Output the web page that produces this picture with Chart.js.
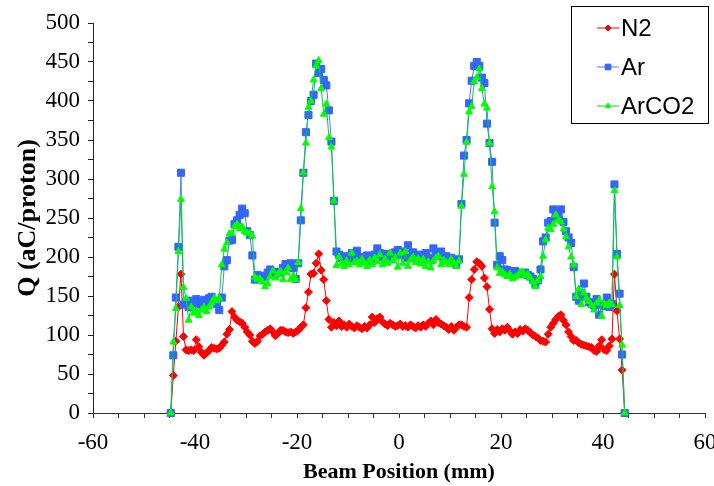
<!DOCTYPE html>
<html>
<head>
<meta charset="utf-8">
<script src="https://cdn.jsdelivr.net/npm/chart.js@4.4.1/dist/chart.umd.min.js"></script>
<style>
  body { margin: 0; background: #fff; }
  canvas { display: block; }
</style>
</head>
<body>
<canvas id="mycanvas" width="714" height="486"></canvas>
<script>
// beam positions (mm)
const positions = [
  -44.75, -44.25, -43.75, -43.25, -42.75, -42.25, -41.75, -41.25, -40.75, -40.25,
  -39.75, -39.25, -38.75, -38.25, -37.75, -37.25, -36.75, -36.25, -35.75, -35.25,
  -34.75, -34.25, -33.75, -33.25, -32.75, -32.25, -31.75, -31.25, -30.75, -30.25,
  -29.75, -29.25, -28.75, -28.25, -27.75, -27.25, -26.75, -26.25, -25.75, -25.25,
  -24.75, -24.25, -23.75, -23.25, -22.75, -22.25, -21.75, -21.25, -20.75, -20.25,
  -19.75, -19.25, -18.75, -18.25, -17.75, -17.25, -16.75, -16.25, -15.75, -15.25,
  -14.75, -14.25, -13.75, -13.25, -12.75, -12.25, -11.75, -11.25, -10.75, -10.25,
  -9.75, -9.25, -8.75, -8.25, -7.75, -7.25, -6.75, -6.25, -5.75, -5.25,
  -4.75, -4.25, -3.75, -3.25, -2.75, -2.25, -1.75, -1.25, -0.75, -0.25,
  0.25, 0.75, 1.25, 1.75, 2.25, 2.75, 3.25, 3.75, 4.25, 4.75,
  5.25, 5.75, 6.25, 6.75, 7.25, 7.75, 8.25, 8.75, 9.25, 9.75,
  10.25, 10.75, 11.25, 11.75, 12.25, 12.75, 13.25, 13.75, 14.25, 14.75,
  15.25, 15.75, 16.25, 16.75, 17.25, 17.75, 18.25, 18.75, 19.25, 19.75,
  20.25, 20.75, 21.25, 21.75, 22.25, 22.75, 23.25, 23.75, 24.25, 24.75,
  25.25, 25.75, 26.25, 26.75, 27.25, 27.75, 28.25, 28.75, 29.25, 29.75,
  30.25, 30.75, 31.25, 31.75, 32.25, 32.75, 33.25, 33.75, 34.25, 34.75,
  35.25, 35.75, 36.25, 36.75, 37.25, 37.75, 38.25, 38.75, 39.25, 39.75,
  40.25, 40.75, 41.25, 41.75, 42.25, 42.75, 43.25, 43.75, 44.25
];

// Q (aC/proton)
const n2 = [
  0, 48, 92, 136, 178, 98, 81, 80, 81, 80,
  94, 85, 78, 74, 77, 80, 84, 83, 82, 83,
  87, 91, 101, 107, 130, 123, 119, 117, 115, 110,
  104, 100, 92, 89, 92, 99, 101, 104, 106, 108,
  104, 99, 102, 106, 106, 104, 103, 104, 102, 104,
  106, 110, 113, 135, 155, 178, 179, 192, 204, 183,
  171, 144, 120, 110, 116, 112, 118, 111, 113, 110,
  114, 111, 109, 112, 110, 108, 111, 109, 113, 123,
  116, 121, 123, 117, 114, 112, 115, 113, 111, 112,
  114, 111, 112, 110, 113, 111, 109, 112, 110, 113,
  111, 115, 118, 113, 120, 116, 114, 112, 110, 107,
  111, 106, 110, 113, 113, 111, 110, 148, 171, 184,
  194, 192, 188, 173, 162, 133, 108, 102, 107, 104,
  108, 106, 110, 105, 101, 104, 102, 107, 105, 108,
  106, 103, 100, 98, 96, 93, 92, 91, 101, 110,
  115, 120, 124, 126, 119, 113, 104, 98, 93, 93,
  90, 88, 87, 86, 85, 84, 80, 79, 86, 94,
  81, 80, 86, 95, 178, 131, 95, 55, 0
];

const ar = [
  0, 74, 148, 213, 308, 139, 142, 136, 144, 141,
  146, 139, 143, 145, 141, 147, 149, 144, 140, 132,
  148, 188, 196, 221, 222, 242, 247, 254, 262, 256,
  233, 228, 202, 171, 177, 175, 174, 176, 180, 184,
  181, 178, 180, 181, 186, 191, 189, 192, 186, 172,
  192, 247, 308, 360, 382, 400, 408, 448, 436, 441,
  427, 420, 388, 348, 272, 207, 203, 199, 201, 194,
  198, 205, 199, 208, 197, 200, 196, 202, 199, 195,
  203, 211, 205, 200, 198, 204, 197, 201, 206, 209,
  203, 207, 199, 215, 204, 206, 200, 203, 197, 201,
  205, 199, 196, 211, 202, 204, 207, 198, 201, 196,
  199, 193, 190, 197, 268, 330, 350, 397, 426, 445,
  450, 445, 430, 423, 371, 346, 322, 244, 190, 201,
  196, 184, 183, 182, 180, 182, 180, 178, 179, 180,
  177, 175, 172, 165, 170, 184, 220, 225, 244, 246,
  261, 256, 252, 261, 245, 233, 225, 218, 187, 149,
  144, 152, 166, 149, 142, 140, 138, 146, 126, 139,
  137, 148, 136, 140, 293, 204, 153, 75, 0
];

const arco2 = [
  0, 91, 134, 207, 274, 161, 147, 119, 136, 128,
  131, 125, 132, 136, 130, 136, 141, 147, 144, 147,
  190, 210, 218, 230, 230, 239, 242, 236, 239, 233,
  231, 230, 227, 174, 171, 172, 168, 162, 166, 175,
  182, 173, 178, 182, 171, 180, 186, 171, 176, 171,
  193, 262, 308, 346, 392, 400, 427, 445, 452, 416,
  383, 396, 353, 341, 272, 189, 200, 192, 188, 195,
  190, 205, 193, 195, 190, 197, 192, 188, 196, 190,
  199, 194, 203, 190, 197, 192, 205, 195, 199, 187,
  205, 192, 207, 188, 196, 200, 193, 198, 191, 197,
  188, 194, 186, 195, 199, 201, 190, 196, 193, 190,
  197, 192, 188, 195, 265, 306, 347, 386, 393, 425,
  430, 441, 416, 396, 391, 346, 290, 258, 186, 179,
  181, 177, 175, 178, 172, 174, 176, 180, 181, 176,
  178, 173, 168, 162, 170, 175, 201, 222, 237, 235,
  242, 254, 247, 245, 236, 226, 213, 200, 190, 149,
  159, 139, 154, 147, 143, 138, 132, 141, 145, 124,
  140, 138, 141, 139, 285, 200, 138, 87, 0
];

const seriesNames = ['N2', 'Ar', 'ArCO2'];

function pts(vals) {
  return positions.map(function (x, i) { return { x: x, y: vals[i] }; });
}

// legend drawn by hand, boxed in the top right corner
const boxLegend = {
  id: 'boxLegend',
  afterDraw: function (chart) {
    const c = chart.ctx;
    c.save();
    c.fillStyle = '#fff';
    c.fillRect(571, 6, 138, 117);
    c.strokeStyle = '#000';
    c.lineWidth = 1;
    c.strokeRect(571.5, 6.5, 137, 117);
    chart.data.datasets.forEach(function (ds, i) {
      const y = 28 + i * 39;
      c.strokeStyle = ds.borderColor;
      c.lineWidth = 1;
      c.beginPath();
      c.moveTo(597, y);
      c.lineTo(619, y);
      c.stroke();
      c.fillStyle = ds.pointBackgroundColor;
      c.strokeStyle = ds.pointBorderColor;
      Chart.helpers.drawPoint(c, { pointStyle: ds.pointStyle, radius: ds.pointRadius - 1, rotation: 0, borderWidth: 1 }, 608, y);
      c.fillStyle = '#000';
      c.font = '24px "Liberation Sans", Arial, sans-serif';
      c.textBaseline = 'middle';
      c.textAlign = 'left';
      c.fillText(ds.label, 621, y + 1);
    });
    c.restore();
  }
};

const tickFont = { family: '"Liberation Serif", "Times New Roman", serif', size: 23 };

var ctx = document.getElementById('mycanvas');
var lineGraph = new Chart(ctx, {
  type: 'scatter',
  data: {
    datasets: [
      {
        label: seriesNames[0], data: pts(n2), showLine: true, order: 2,
        borderColor: '#ff0000', borderWidth: 1,
        pointStyle: 'rectRot', pointRadius: 4,
        pointBackgroundColor: '#ff0000', pointBorderColor: '#ff0000', pointBorderWidth: 1
      },
      {
        label: seriesNames[1], data: pts(ar), showLine: true, order: 1,
        borderColor: '#4a7cff', borderWidth: 1,
        pointStyle: 'rect', pointRadius: 5,
        pointBackgroundColor: '#3366ff', pointBorderColor: '#3366ff', pointBorderWidth: 1
      },
      {
        label: seriesNames[2], data: pts(arco2), showLine: true, order: 0,
        borderColor: '#00d030', borderWidth: 1,
        pointStyle: 'triangle', pointRadius: 4,
        pointBackgroundColor: '#00ff00', pointBorderColor: '#00ff00', pointBorderWidth: 1
      }
    ]
  },
  options: {
    responsive: false,
    animation: false,
    clip: false,
    layout: { padding: { top: 23, right: 9, left: 0, bottom: 0 } },
    plugins: { legend: { display: false }, tooltip: { enabled: false } },
    scales: {
      x: {
        type: 'linear', min: -60, max: 60,
        ticks: {
          stepSize: 5, autoSkip: false, maxRotation: 0, color: '#000', font: tickFont, padding: 11,
          callback: function (v) { return v % 20 === 0 ? v : ''; }
        },
        grid: { drawOnChartArea: false, tickLength: 5, color: '#333' },
        border: { color: '#333' },
        title: {
          display: true, text: 'Beam Position (mm)', color: '#000',
          font: { family: '"Liberation Serif", "Times New Roman", serif', size: 22, weight: 'bold' },
          padding: { top: 0, bottom: 0 }
        },
        afterFit: function (s) { s.height = 73; s.paddingLeft = 0; s.paddingRight = 0; }
      },
      y: {
        min: 0, max: 500,
        ticks: {
          stepSize: 25, autoSkip: false, color: '#000', font: tickFont, padding: 8,
          callback: function (v) { return v % 50 === 0 ? v : ''; }
        },
        grid: { drawOnChartArea: false, tickLength: 5, color: '#222' },
        border: { color: '#222' },
        title: {
          display: true, text: 'Q (aC/proton)', color: '#000',
          font: { family: '"Liberation Serif", "Times New Roman", serif', size: 26, weight: 'bold' },
          padding: { top: 13, bottom: 0 }
        },
        afterFit: function (s) { s.width = 93; s.paddingTop = 0; s.paddingBottom = 0; }
      }
    }
  },
  plugins: [boxLegend]
});
</script>
</body>
</html>
